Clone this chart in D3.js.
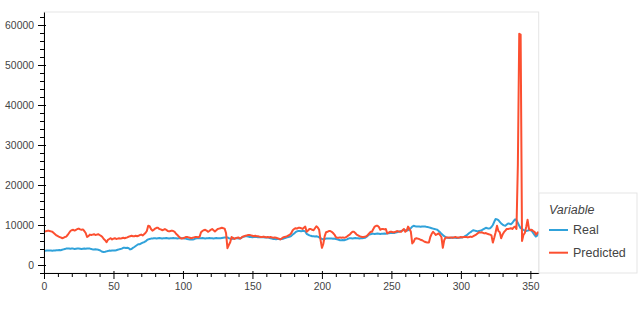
<!DOCTYPE html>
<html>
<head>
<meta charset="utf-8">
<script src="https://cdn.jsdelivr.net/npm/d3@7"></script>
<style>
  body { margin: 0; background: #fff; }
  text { font-family: "Liberation Sans", Arial, Helvetica, sans-serif; }
</style>
</head>
<body>
<script>
// values, one per index 0..356
const real = [
 3600,3550,3600,3650,3600,3600,3550,3600,3650,3700,
 3700,3750,3700,3800,3900,4000,4100,4150,4100,4050,
 4100,4100,4000,4050,4100,4100,4050,4000,4050,4100,
 4050,4100,4150,4100,4000,3900,3900,3950,3900,3800,
 3700,3500,3300,3250,3300,3400,3500,3600,3550,3600,
 3650,3600,3700,3800,3900,4000,4100,4300,4300,4250,
 4300,4200,3900,4000,4300,4500,4750,5000,5200,5200,
 5400,5600,5700,5900,6200,6400,6500,6600,6600,6700,
 6700,6650,6700,6750,6700,6650,6700,6700,6750,6700,
 6650,6700,6700,6750,6700,6700,6650,6700,6750,6700,
 6700,6650,6600,6500,6450,6400,6400,6350,6450,6600,
 6700,6700,6700,6700,6750,6700,6650,6700,6700,6750,
 6700,6700,6650,6700,6750,6700,6700,6700,6750,6800,
 6850,6900,6900,6700,6600,6500,6550,6600,6700,6700,
 6650,6600,6800,7000,7100,7200,7200,7100,7000,7000,
 6950,7000,7050,7000,6950,7000,6950,7000,6950,6900,
 6900,6900,6800,6700,6600,6500,6500,6450,6500,6500,
 6450,6500,6550,6700,6800,6900,7000,7100,7300,7600,
 7900,8200,8400,8500,8500,8450,8500,8550,8400,7800,
 7600,7400,7300,7200,7200,7150,7200,7100,6900,6700,
 6500,6400,6500,6600,6600,6600,6650,6600,6550,6600,
 6500,6400,6300,6200,6200,6250,6200,6300,6400,6600,
 6700,6700,6650,6700,6750,6700,6700,6650,6700,6700,
 6750,6800,7000,7300,7600,7700,7800,7800,7750,7800,
 7850,7800,7750,7800,7800,7850,7800,7900,7950,8000,
 8000,8050,8000,8100,8200,8300,8400,8500,8600,8800,
 8700,8600,8700,8900,9200,9600,9800,9700,9600,9650,
 9600,9550,9600,9600,9650,9550,9500,9400,9300,9200,
 9100,9000,8900,8800,8500,8200,7800,7500,7200,7000,
 6800,6800,6750,6800,6850,6800,6800,6750,6800,6800,
 6850,6900,7000,7200,7400,7700,8000,8200,8500,8700,
 8600,8500,8400,8500,8600,8700,8900,9100,9300,9200,
 9100,9200,9500,10000,10800,11500,11400,11200,10800,10400,
 10100,9900,9800,10100,10400,10300,10200,10500,11000,11400,
 11200,10500,9800,9200,9000,8800,8600,8500,8600,8700,
 8800,8500,8000,7500,7100,7400,8200
]

const predicted = [
 8500,8400,8500,8600,8500,8400,8300,8000,7700,7400,
 7200,7000,6900,6700,6800,7000,7100,7500,8000,8500,
 8700,8800,8600,8800,9000,9100,8900,8800,8900,8500,
 8000,7000,7200,7600,7500,7600,7700,7500,7600,7700,
 7500,7300,7000,6500,6200,5700,6300,6500,6700,6400,
 6600,6700,6500,6600,6700,6600,6700,6800,6700,6800,
 6900,7100,7200,7300,7200,7200,7300,7200,7300,7500,
 7600,7400,7700,8000,8500,9800,9700,9000,8600,8800,
 9100,9300,9300,9000,8900,8700,8800,9000,8800,8500,
 8400,8500,8600,8500,8300,7800,7500,7100,6800,6600,
 6700,6800,7000,7000,6900,6800,6700,6800,6900,7000,
 7000,6900,7100,8200,8500,8700,8800,8600,8300,8500,
 8800,9000,8700,8400,8700,9000,9100,9200,9300,9200,
 9100,8000,4200,5000,5700,7000,6800,6500,6700,6800,
 6900,6600,6800,7100,7200,7300,7400,7500,7500,7400,
 7300,7200,7300,7200,7200,7100,7000,7000,7100,7000,
 6900,7000,6900,7000,6900,6800,6900,6800,6700,6600,
 6400,6600,6900,7000,7100,7200,7400,7600,8000,8700,
 9000,9200,9100,9300,9300,9200,9000,9300,9600,8300,
 8600,9000,9000,8800,8700,9200,9700,9400,8800,6300,
 4300,5300,7200,8200,8300,8500,8500,8300,8000,7600,
 7000,6800,6800,6900,6800,6900,6800,6900,7100,7400,
 7600,8000,8300,8300,8000,7600,7400,7200,7100,7000,
 7000,7100,7200,7500,7900,8300,8300,9000,9600,9800,
 9800,9500,8800,9000,9000,8900,9000,7900,8100,8300,
 8300,8200,8200,8300,8500,8400,8300,8300,8700,9000,
 8300,8600,9600,9000,8300,5400,5800,6600,6700,6600,
 6500,6300,6200,6000,5800,5700,5600,5600,7000,7800,
 8300,7900,7500,7700,7900,7500,7000,4300,6200,6900,
 6900,6800,6900,6900,6800,6900,7000,6900,6800,6900,
 7000,6900,7000,7000,7000,6900,7000,7100,7000,7200,
 7400,7600,7900,8200,8100,8200,8000,7900,8000,7800,
 7700,7600,7400,5600,6800,8200,9800,8500,8200,6700,
 7600,8200,8600,9000,9000,9100,9200,9000,9400,9600,
 9000,25000,57800,57600,6000,7500,8000,9500,11300,9000,
 8700,8800,8500,8300,7600,8000,8300
]

const seriesNames = ["Real", "Predicted"]
const seriesColors = ["#30a2da", "#fc4f30"]
const legendTitle = "Variable"

const xTicks = [0, 50, 100, 150, 200, 250, 300, 350]
const yTicks = [0, 10000, 20000, 30000, 40000, 50000, 60000]

const w = 643
const h = 309

const xscale = d3.scaleLinear()
  .domain([0, 356])
  .range([44, 538.7])

const yscale = d3.scaleLinear()
  .domain([-2000, 63250])
  .range([273, 12])

const svgarea = d3.select("body")
  .append("svg")
  .attr("width", w)
  .attr("height", h)

// plot frame
svgarea.append("rect")
  .attr("x", 44)
  .attr("y", 12)
  .attr("width", 538.7 - 44)
  .attr("height", 273 - 12)
  .attr("fill", "#fff")
  .attr("stroke", "#e5e5e5")
  .attr("stroke-width", 1)

const line = d3.line()
  .x((d, i) => xscale(i))
  .y(d => yscale(d))

const allSeries = [real, predicted]

svgarea.selectAll(".series")
  .data(allSeries)
  .enter()
  .append("path")
  .attr("class", "series")
  .attr("d", d => line(d))
  .attr("fill", "none")
  .attr("stroke", (d, i) => seriesColors[i])
  .attr("stroke-width", 2)
  .attr("stroke-linejoin", "round")

// axes
const xMinor = d3.range(0, 357, 10).filter(v => v % 50 != 0)
const yMinor = d3.range(-2000, 63000, 2000).filter(v => v % 10000 != 0)

const xAxis = d3.axisBottom(xscale)
  .tickValues(xTicks)
  .tickFormat(d3.format("d"))
  .tickSizeInner(6)
  .tickSizeOuter(0)
  .tickPadding(4)

const gx = svgarea.append("g")
  .attr("transform", "translate(0,273)")
  .call(xAxis)
  .attr("id", "x-axis")
gx.selectAll(".tick line").attr("y1", -2)

svgarea.append("g")
  .attr("transform", "translate(0,273)")
  .call(d3.axisBottom(xscale).tickValues(xMinor).tickSize(4).tickFormat(""))
  .call(g => g.select(".domain").remove())

const yAxis = d3.axisLeft(yscale)
  .tickValues(yTicks)
  .tickFormat(d3.format("d"))
  .tickSizeInner(6)
  .tickSizeOuter(0)
  .tickPadding(4)

const gy = svgarea.append("g")
  .attr("transform", "translate(44,0)")
  .call(yAxis)
  .attr("id", "y-axis")
gy.selectAll(".tick line").attr("x1", 2)

svgarea.append("g")
  .attr("transform", "translate(44,0)")
  .call(d3.axisLeft(yscale).tickValues(yMinor).tickSize(4).tickFormat(""))
  .call(g => g.select(".domain").remove())

svgarea.selectAll(".domain, .tick line")
  .attr("stroke", "#000")
  .attr("stroke-width", 1)

svgarea.selectAll(".tick text")
  .style("font-family", '"Liberation Sans", Arial, sans-serif')
  .style("font-size", "10.4px")
  .attr("fill", "#444")

// legend
const legend = svgarea.append("g")

legend.append("rect")
  .attr("x", 539)
  .attr("y", 193)
  .attr("width", 98)
  .attr("height", 80)
  .attr("fill", "#fff")
  .attr("stroke", "#e5e5e5")

legend.append("text")
  .attr("x", 549)
  .attr("y", 214)
  .attr("font-size", "12.5px")
  .attr("font-style", "italic")
  .attr("fill", "#444")
  .text(legendTitle)

seriesNames.forEach((name, i) => {
  const ly = 230 + i * 22.7
  legend.append("line")
    .attr("x1", 549)
    .attr("x2", 568)
    .attr("y1", ly)
    .attr("y2", ly)
    .attr("stroke", seriesColors[i])
    .attr("stroke-width", 2)
  legend.append("text")
    .attr("x", 573)
    .attr("y", ly)
    .attr("dy", "0.35em")
    .attr("font-size", "12.5px")
    .attr("fill", "#444")
    .text(name)
})
</script>
</body>
</html>
